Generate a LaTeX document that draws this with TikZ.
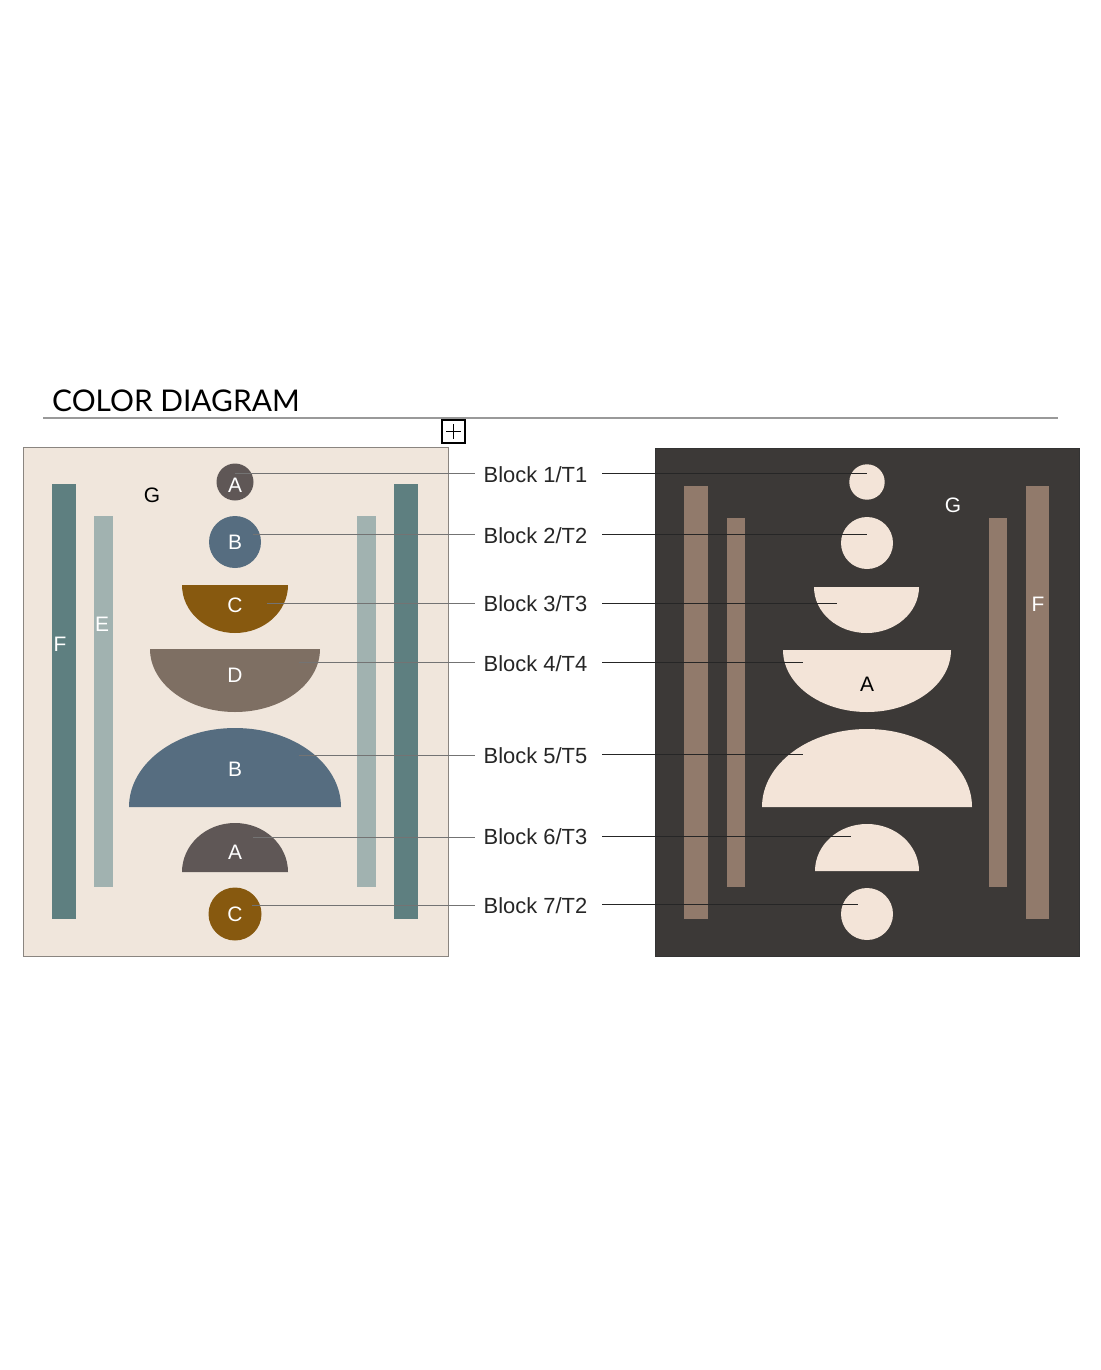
\documentclass[tikz,border=0pt]{standalone}
\usepackage{fontspec}
\usetikzlibrary{calc}
\setmainfont{Liberation Sans}
\newfontfamily\titlefont{Lato}
\definecolor{lbg}{HTML}{F0E6DC}
\definecolor{lborder}{HTML}{8A8580}
\definecolor{tealF}{HTML}{5E7F80}
\definecolor{tealE}{HTML}{A1B2B0}
\definecolor{colA}{HTML}{5F5756}
\definecolor{colB}{HTML}{566D80}
\definecolor{colC}{HTML}{87590F}
\definecolor{colD}{HTML}{7E6F63}
\definecolor{rbg}{HTML}{3C3937}
\definecolor{rbar}{HTML}{917A6B}
\definecolor{rshape}{HTML}{F3E4D8}
\begin{document}
\begin{tikzpicture}[x=1bp,y=-1bp,
  letter/.style={text=white,font=\fontsize{21}{21}\selectfont,inner sep=0},
  dletter/.style={text=black,font=\fontsize{21}{21}\selectfont,inner sep=0},
  blocklabel/.style={font=\fontsize{22}{22}\selectfont,minimum width=127bp,inner xsep=0,inner ysep=2bp,text=black!85},
  leftlead/.style={draw=black!55,line width=1bp},
  rightlead/.style={draw=black!85,line width=1bp}]
\useasboundingbox[fill=white] (0,0) rectangle (1100,1370);
% title
\node[anchor=base west,inner sep=0,font=\titlefont\fontsize{30}{30}\selectfont] (title) at (52,411) {COLOR DIAGRAM};
\draw[black!40,line width=1.5bp] (43,418) -- (1058,418);
\draw[black,line width=2bp] (442,420) rectangle (465,443);
\draw[black,line width=1.5bp] (446,431.5) -- (461,431.5) (453.5,424) -- (453.5,439);
% ===== left panel =====
\filldraw[fill=lbg,draw=lborder,line width=1bp] (23,447) rectangle (448,956);
\fill[tealF] (52,484) rectangle (76,919);
\fill[tealE] (94,516) rectangle (113,887);
\fill[tealE] (357,516) rectangle (376,887);
\fill[tealF] (394,484) rectangle (418,919);
\node[letter] (lF) at (60,644) {F};
\node[letter] (lE) at (102,624) {E};
\node[dletter] (lG) at (152,495) {G};
% shapes
\fill[colA] (235,482) circle[radius=18.5];
\fill[colB] (235,542) circle[radius=26];
\fill[colC] (182,585) arc[start angle=180,end angle=0,x radius=53,y radius=48] -- cycle;
\fill[colD] (150,649) arc[start angle=180,end angle=0,x radius=85,y radius=63] -- cycle;
\fill[colB] (129,807) arc[start angle=180,end angle=360,x radius=106,y radius=79] -- cycle;
\fill[colA] (182,872) arc[start angle=180,end angle=360,x radius=53,y radius=49] -- cycle;
\fill[colC] (235,914) circle[radius=26.5];
\node[letter] (sA1) at (235,485) {A};
\node[letter] (sB1) at (235,542) {B};
\node[letter] (sC1) at (235,605) {C};
\node[letter] (sD1) at (235,675) {D};
\node[letter] (sB2) at (235,769) {B};
\node[letter] (sA2) at (235,852) {A};
\node[letter] (sC2) at (235,914) {C};
% ===== right panel =====
\filldraw[fill=rbg,draw=black!80,line width=1bp] (655,448) rectangle (1079,956);
\fill[rbar] (684,486) rectangle (708,919);
\fill[rbar] (727,518) rectangle (745,887);
\fill[rbar] (989,518) rectangle (1007,887);
\fill[rbar] (1026,486) rectangle (1049,919);
\node[letter] (rF) at (1038,604) {F};
\node[letter] (rG) at (953,505) {G};
\fill[rshape] (867,482) circle[radius=17.7];
\fill[rshape] (867,543) circle[radius=26];
\fill[rshape] (814,587) arc[start angle=180,end angle=0,x radius=52.5,y radius=46] -- cycle;
\fill[rshape] (783,650) arc[start angle=180,end angle=0,x radius=84,y radius=62] -- cycle;
\fill[rshape] (762,807) arc[start angle=180,end angle=360,x radius=105,y radius=78] -- cycle;
\fill[rshape] (815,871) arc[start angle=180,end angle=360,x radius=52,y radius=47] -- cycle;
\fill[rshape] (867,914) circle[radius=26];
\node[dletter] (rA) at (867,684) {A};
% ===== labels and leaders =====
\node[blocklabel] (b1) at (535.5,475) {Block 1/T1};
\node[blocklabel] (b2) at (535.5,536) {Block 2/T2};
\node[blocklabel] (b3) at (535.5,604) {Block 3/T3};
\node[blocklabel] (b4) at (535.5,664) {Block 4/T4};
\node[blocklabel] (b5) at (535.5,756) {Block 5/T5};
\node[blocklabel] (b6) at (535.5,837) {Block 6/T3};
\node[blocklabel] (b7) at (535.5,906) {Block 7/T2};
\coordinate (L1) at (235,473);
\coordinate (L2) at (253,534);
\coordinate (L3) at (267,603);
\coordinate (L4) at (299,662);
\coordinate (L5) at (299,755);
\coordinate (L6) at (253,837);
\coordinate (L7) at (252,905);
\coordinate (R1) at (867,473);
\coordinate (R2) at (867,534);
\coordinate (R3) at (837,603);
\coordinate (R4) at (803,662);
\coordinate (R5) at (803,754);
\coordinate (R6) at (851,836);
\coordinate (R7) at (858,904);
\foreach \i in {1,...,7}{
  \coordinate (bw\i) at ($(b\i.west)+(3,0)$);
  \coordinate (be\i) at ($(b\i.east)+(3,0)$);
  \draw[leftlead] (L\i) -- (L\i -| bw\i);
  \draw[rightlead] (R\i -| be\i) -- (R\i);
}
\end{tikzpicture}
\end{document}
